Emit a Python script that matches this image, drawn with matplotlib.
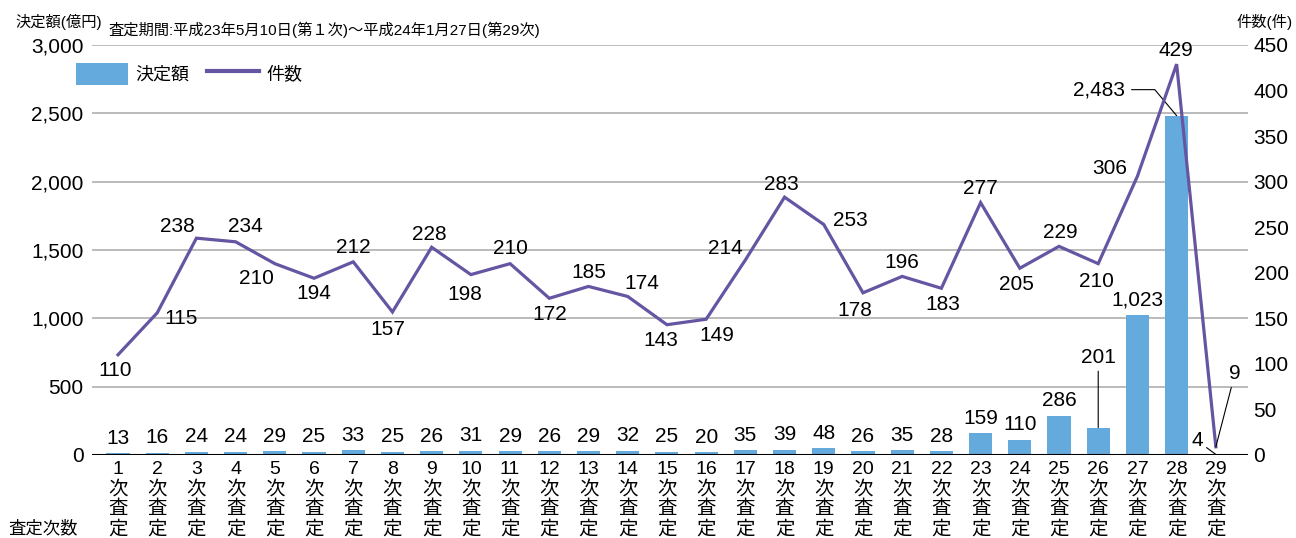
import matplotlib
matplotlib.use('Agg')
import matplotlib.pyplot as plt
from matplotlib.patches import Patch
from matplotlib.lines import Line2D
from matplotlib.ticker import FuncFormatter, MultipleLocator

plt.rcParams['font.family'] = ['Liberation Sans', 'Noto Sans CJK JP', 'DejaVu Sans']

# data
rounds = [str(i) for i in range(1, 30)]
amounts = [13, 16, 24, 24, 29, 25, 33, 25, 26, 31, 29, 26, 29, 32, 25,
           20, 35, 39, 48, 26, 35, 28, 159, 110, 286, 201, 1023, 2483, 4]
# line points as drawn (point 2 sits near 156 although labelled 115)
counts = [110, 156, 238, 234, 210, 194, 212, 157, 228, 198, 210, 172, 185,
          174, 143, 149, 214, 283, 253, 178, 196, 183, 277, 205, 229, 210,
          306, 429, 9]
count_labels = ['110', '115', '238', '234', '210', '194', '212', '157', '228',
                '198', '210', '172', '185', '174', '143', '149', '214', '283',
                '253', '178', '196', '183', '277', '205', '229', '210', '306',
                '429', '9']

# label offsets for the count line, in pixels (dx, dy up)
count_offsets = [(-3, -16), (24, -6), (-19, 12), (10, 15), (-18, -15),
                 (0, -15), (0, 14), (-5, -18), (-2, 13), (-6, -20), (0, 15),
                 (0, -16), (0, 14), (14, 13), (-6, -16), (11, -16), (-20, 12),
                 (-3, 13), (27, 4), (-8, -18), (0, 14), (1, -16), (0, 14),
                 (-3, -16), (1, 14), (-2, -18), (-28, 8), (-1, 14), (19, 73)]

BAR = '#64aadd'
LINE = '#6555a2'
GRID = '#a8a8a8'

fig = plt.figure(figsize=(12.96, 5.38), dpi=100)
ax = fig.add_axes([92 / 1296, 1 - 455 / 538, (1248 - 92) / 1296, 410 / 538])
ax2 = ax.twinx()

x = list(range(len(rounds)))
ax.bar(x, amounts, width=0.59, color=BAR, zorder=2)
ax2.plot(x, counts, color=LINE, lw=2.3, zorder=3, solid_joinstyle='miter')

ax.set_xlim(-0.663, 28.82)
ax.set_ylim(0, 3000)
ax2.set_ylim(0, 450)
ax.yaxis.set_major_locator(MultipleLocator(500))
ax2.yaxis.set_major_locator(MultipleLocator(50))
ax.yaxis.set_major_formatter(FuncFormatter(lambda v, p: f'{int(v):,}'))
ax.grid(axis='y', color=GRID, lw=1.1, zorder=0)
ax.set_axisbelow(True)

for a in (ax, ax2):
    for s in ('top', 'left', 'right', 'bottom'):
        a.spines[s].set_visible(False)
ax.axhline(0, color='black', lw=1.5, zorder=4)

ax.tick_params(axis='y', length=0, pad=6, labelsize=15)
ax2.tick_params(axis='y', length=0, pad=4, labelsize=15)
ax.set_xticks(x)
ax.set_xticklabels([f'{r}\n次\n査\n定' for r in rounds], fontsize=14,
                   linespacing=1.2)
ax.tick_params(axis='x', length=0, pad=4)

ax.set_zorder(ax2.get_zorder() - 1)
ax.patch.set_visible(False)

# bar labels
for i, v in enumerate(amounts):
    if i in (25, 27, 28):
        continue
    ax.annotate(f'{v:,}', (i, v), xytext=(0, 15), textcoords='offset pixels',
                ha='center', va='center', fontsize=15, zorder=5)

lead = dict(arrowstyle='-', color='black', lw=0.8, shrinkA=1, shrinkB=0)
ax.annotate(f'{amounts[25]:,}', (25, amounts[25]), xytext=(0, 70),
            textcoords='offset pixels', ha='center', va='center', fontsize=15,
            arrowprops=lead)
ax.annotate(f'{amounts[28]:,}', (28, amounts[28]), xytext=(-19, 14),
            textcoords='offset pixels', ha='center', va='center', fontsize=15,
            arrowprops=lead)
ax.annotate(f'{amounts[27]:,}', (27, amounts[27]), xytext=(-78, 26),
            textcoords='offset pixels', ha='center', va='center', fontsize=15,
            arrowprops=dict(lead, connectionstyle='angle,angleA=0,angleB=130,rad=0',
                            shrinkA=3))

# count labels
for i, (v, t, off) in enumerate(zip(counts, count_labels, count_offsets)):
    kw = {}
    if i == 28:
        kw['arrowprops'] = lead
    ax2.annotate(t, (i, v), xytext=off, textcoords='offset pixels',
                 ha='center', va='center', fontsize=15, zorder=6, **kw)

# texts around the plot
fig.text(15 / 1296, 1 - 22 / 538, '決定額(億円)', fontsize=11, va='center')
fig.text(108 / 1296, 1 - 30 / 538,
         '査定期間:平成23年5月10日(第１次)〜平成24年1月27日(第29次)',
         fontsize=11, va='center')
fig.text(1293 / 1296, 1 - 22 / 538, '件数(件)', fontsize=11, va='center',
         ha='right')
fig.text(8 / 1296, 1 - 528 / 538, '査定次数', fontsize=12.5, va='center')

handles = [Patch(facecolor=BAR, edgecolor='none'),
           Line2D([0], [0], color=LINE, lw=3)]
fig.legend(handles, ['決定額', '件数'], loc='upper left',
           bbox_to_anchor=(76 / 1296, 1 - 63 / 538), ncol=2, frameon=False,
           fontsize=13, handlelength=2.9, handleheight=1.5,
           handletextpad=0.4, columnspacing=0.95, borderpad=0,
           borderaxespad=0)

fig.savefig('out.png', dpi=100)
